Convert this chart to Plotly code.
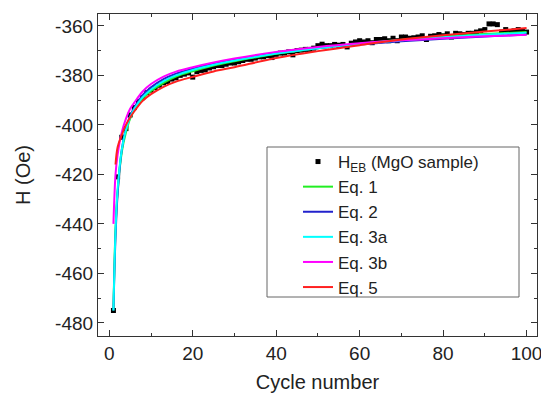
import plotly.graph_objects as go

cycles = list(range(1, 101))
h_eb = [-475, -421, -405, -401.5, -396, -393, -390.5, -389, -387, -386,
        -385, -384, -383, -382.5, -381.5, -381, -380, -379.5, -379, -380.7,
        -378.5, -378, -377.8, -377, -376.5, -376, -376, -375.5, -375, -375,
        -374.5, -374, -373.5, -373.5, -373, -372.5, -372.5, -372, -372.8, -371.5,
        -371, -371, -370.5, -371.7, -370, -369.8, -369.5, -369.5, -369, -368,
        -367.4, -368, -368, -367.5, -367.8, -367.5, -368.5, -367, -366.5, -366,
        -366.5, -366, -366.8, -365.5, -365.5, -365.2, -366, -365, -366, -364.5,
        -364.5, -365, -364.8, -364.5, -364, -365.5, -364.2, -364, -363.5, -364,
        -363.2, -364.5, -363, -363.2, -363.5, -363, -363, -362.5, -362, -361.5,
        -359.2, -359.2, -359.5, -362.5, -361.5, -362.5, -362, -361.5, -362, -362.5]

fit_n = [1, 1.5, 2, 3, 4, 5, 6, 8, 10, 13, 16, 20, 25, 30, 40, 50, 60, 70, 80, 90, 100]
eq1 = [-475, -442, -427, -411, -403, -397.5, -394, -389.3, -386.3, -383, -380.5,
       -378.3, -376, -374.3, -371.3, -369, -367.2, -365.6, -364.3, -363.3, -362.5]
eq2 = [-475, -445, -428, -410, -401.5, -396.5, -393, -388, -384.8, -381.5, -379.3,
       -377.3, -375.3, -373.7, -371, -369, -367.5, -366.2, -365.2, -364.3, -363.5]
eq3a = [-475, -443, -426, -410, -402, -397, -393.5, -388.8, -385.7, -382.3, -380,
        -377.8, -375.7, -374, -371.2, -369, -367.3, -365.8, -364.6, -363.6, -362.8]
eq3b = [-440, -420, -412, -403, -397.5, -393.5, -391, -386.5, -383.5, -380.5, -378.5,
        -376.7, -374.8, -373.2, -370.5, -368.5, -367, -365.8, -365, -364.2, -363.6]
red_n = fit_n[1:]
eq5 = [-416, -409, -404, -400, -397, -394.5, -390.3, -387.6, -384.6, -382.5,
       -380.6, -378.4, -376.7, -373, -370.2, -367.8, -365.5, -363.8, -362.3, -360.9]

x_ticks = [0, 20, 40, 60, 80, 100]
x_labels = ["0", "20", "40", "60", "80", "100"]
y_ticks = [-480, -460, -440, -420, -400, -380, -360]
y_labels = ["-480", "-460", "-440", "-420", "-400", "-380", "-360"]

FONT = "Liberation Sans, Arial, sans-serif"

W, H = 541, 393
PL, PR, PT, PB = 98, 537, 14, 336
PW, PH = PR - PL, PB - PT

fig = go.Figure()
fig.add_trace(go.Scatter(x=cycles, y=h_eb, mode="markers", name="H<sub>EB</sub> (MgO sample)",
                         marker=dict(symbol="square", size=5, color="black")))
for name, xs, ys, col in [("Eq. 1", fit_n, eq1, "#22ee22"),
                          ("Eq. 2", fit_n, eq2, "#2222cc"),
                          ("Eq. 3a", fit_n, eq3a, "#00ffff"),
                          ("Eq. 3b", fit_n, eq3b, "#ff00ff"),
                          ("Eq. 5", red_n, eq5, "#ff2020")]:
    fig.add_trace(go.Scatter(x=xs, y=ys, mode="lines", name=name,
                             line=dict(color=col, width=2, shape="spline")))

axis_common = dict(showline=True, linecolor="#333", linewidth=1.2, mirror="allticks",
                   ticks="inside", ticklen=6, tickwidth=1.2, tickcolor="#333",
                   showgrid=False, zeroline=False, automargin=False,
                   ticklabeloverflow="allow",
                   tickfont=dict(family=FONT, size=19, color="#222"),
                   minor=dict(ticks="inside", ticklen=3, tickwidth=1, tickcolor="#333"))

fig.update_xaxes(range=[-2.7, 102.5], tickmode="array", tickvals=x_ticks, ticktext=x_labels,
                 minor_dtick=10, minor_tick0=0,
                 title=dict(text="Cycle number", font=dict(family=FONT, size=20, color="#222"), standoff=13),
                 **axis_common)
fig.update_yaxes(range=[-485.3, -355.2], tickmode="array", tickvals=y_ticks, ticktext=y_labels,
                 minor_dtick=10, minor_tick0=-480,
                 title=dict(text="H (Oe)", font=dict(family=FONT, size=20, color="#222"), standoff=19),
                 **axis_common)

fig.add_shape(type="rect", xref="paper", yref="paper",
              x0=(267 - PL) / PW, x1=(519 - PL) / PW,
              y0=(PB - 297) / PH, y1=(PB - 147) / PH,
              line=dict(color="#666", width=1), fillcolor="white", layer="below")

fig.update_layout(
    width=W, height=H,
    margin=dict(l=PL, r=W - PR, t=PT, b=H - PB),
    paper_bgcolor="white", plot_bgcolor="white",
    font=dict(family=FONT, color="#222"),
    legend=dict(x=(298 - PL) / PW, y=(PB - 144) / PH, xanchor="left", yanchor="top",
                bgcolor="rgba(0,0,0,0)", borderwidth=0,
                font=dict(family=FONT, size=17, color="#222"),
                tracegroupgap=0),
)

fig.write_html("out.html",
               config={"displayModeBar": False},
               post_script="document.body.style.margin='0';document.body.style.overflow='hidden';")
